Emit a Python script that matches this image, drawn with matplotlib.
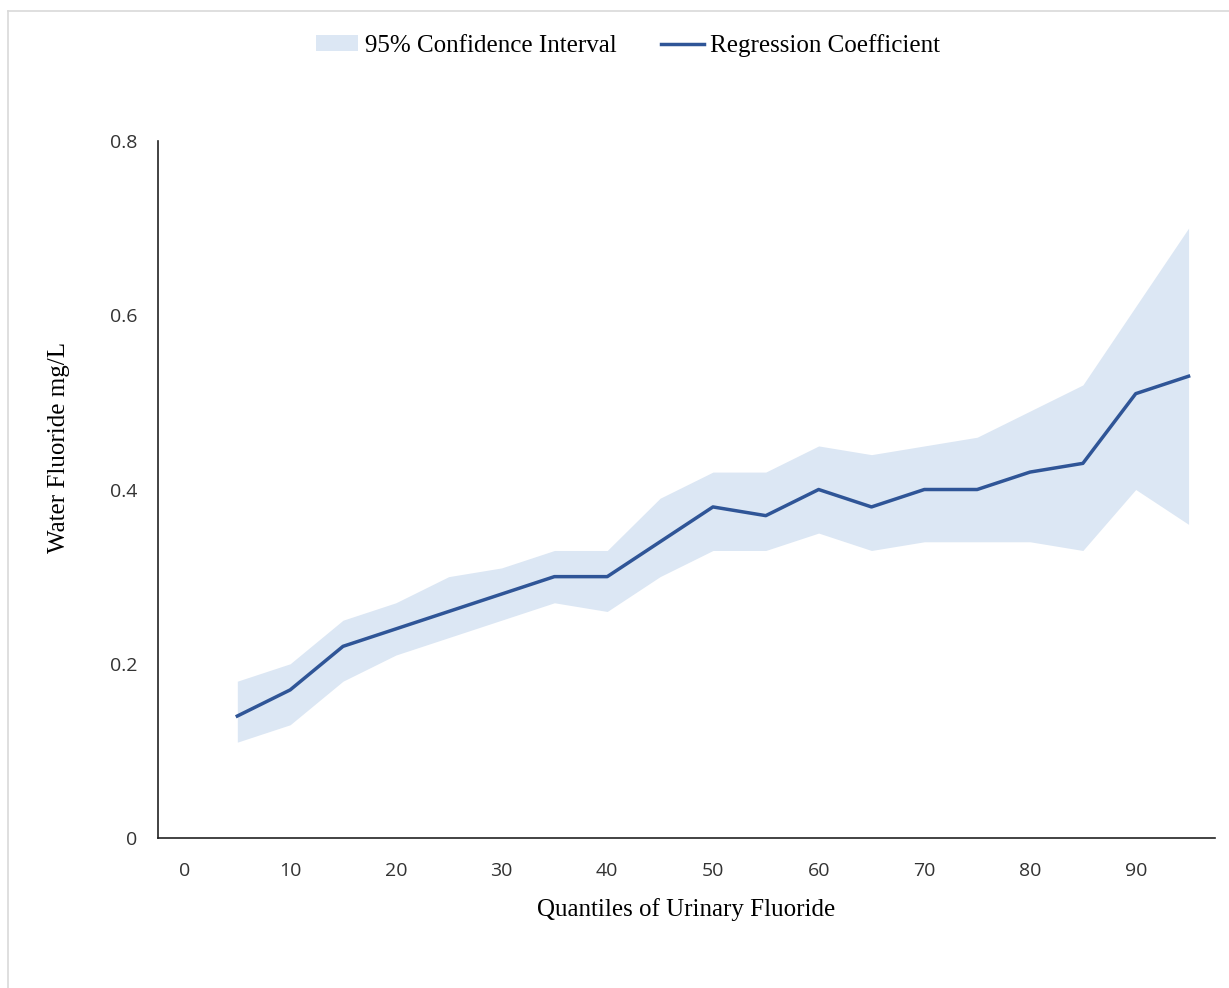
import matplotlib.pyplot as plt
from matplotlib.lines import Line2D

# quantiles and estimates
quantiles = [5, 10, 15, 20, 25, 30, 35, 40, 45, 50, 55, 60, 65, 70, 75, 80, 85, 90, 95]
coef = [0.14, 0.17, 0.22, 0.24, 0.26, 0.28, 0.30, 0.30, 0.34, 0.38,
        0.37, 0.40, 0.38, 0.40, 0.40, 0.42, 0.43, 0.51, 0.53]
ci_upper = [0.18, 0.20, 0.25, 0.27, 0.30, 0.31, 0.33, 0.33, 0.39, 0.42,
            0.42, 0.45, 0.44, 0.45, 0.46, 0.49, 0.52, 0.61, 0.70]
ci_lower = [0.11, 0.13, 0.18, 0.21, 0.23, 0.25, 0.27, 0.26, 0.30, 0.33,
            0.33, 0.35, 0.33, 0.34, 0.34, 0.34, 0.33, 0.40, 0.36]
xticks = [0, 10, 20, 30, 40, 50, 60, 70, 80, 90]
yticks = [0, 0.2, 0.4, 0.6, 0.8]
ytick_labels = ['0', '0.2', '0.4', '0.6', '0.8']

serif = 'Liberation Serif'
sans = 'Open Sans'

fig = plt.figure(figsize=(12.29, 9.88), dpi=100)
ax = fig.add_axes([0.1286, 0.1518, 0.86, 0.7055])

ax.fill_between(quantiles, ci_lower, ci_upper, color='#dce7f4', linewidth=0,
                label='95% Confidence Interval')
ax.plot(quantiles, coef, color='#2f5597', linewidth=2.5, label='Regression Coefficient')

ax.set_xlim(-2.5, 97.5)
ax.set_ylim(0, 0.8)
ax.set_xticks(xticks)
ax.set_xticklabels([str(t) for t in xticks], fontfamily=sans, fontsize=14, color='#333333')
ax.set_yticks(yticks)
ax.set_yticklabels(ytick_labels, fontfamily=sans, fontsize=14, color='#333333')
ax.tick_params(axis='y', length=0, pad=15)
ax.tick_params(axis='x', length=0, pad=17)

for s in ['top', 'right']:
    ax.spines[s].set_visible(False)
for s in ['left', 'bottom']:
    ax.spines[s].set_color('#222222')
    ax.spines[s].set_linewidth(1.2)

ax.set_xlabel('Quantiles of Urinary Fluoride', fontfamily=serif, fontsize=18, labelpad=13)
ax.set_ylabel('Water Fluoride mg/L', fontfamily=serif, fontsize=18)
ax.yaxis.set_label_coords(-0.083, 0.56)

fig.legend(loc='center', bbox_to_anchor=(0.511, 0.954), ncol=2, frameon=False,
           prop={'family': serif, 'size': 18}, handlelength=1.7, handleheight=0.6,
           columnspacing=1.8, handletextpad=0.25)

# thin grey frame seen on the top and left edges of the picture
fig.add_artist(Line2D([0.0065, 1.0], [0.989, 0.989], color='#d9d9d9', linewidth=1.2))
fig.add_artist(Line2D([0.0065, 0.0065], [0.0, 0.989], color='#d9d9d9', linewidth=1.2))

fig.savefig('out.png', dpi=100)
